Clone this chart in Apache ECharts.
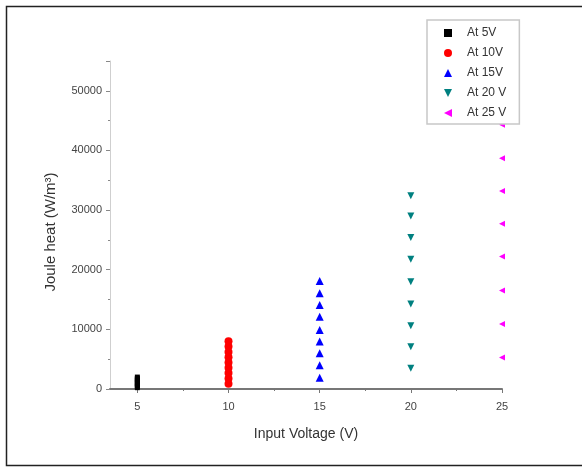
<!DOCTYPE html>
<html>
<head>
<meta charset="utf-8">
<script src="https://cdn.jsdelivr.net/npm/echarts@6/dist/echarts.min.js"></script>
<style>
    html, body { margin: 0; padding: 0; background: #fff; }
    #chart { width: 582px; height: 468px; }
</style>
</head>
<body>
<div id="chart"></div>
<script type="text/javascript">
    // 数据
    var seriesNames = ['At 5V', 'At 10V', 'At 15V', 'At 20 V', 'At 25 V'];
    var voltages = [5, 10, 15, 20, 25];
    var heat5 = [220, 440, 670, 890, 1110, 1330, 1560, 1780, 2000];
    var heat10 = [890, 1780, 2670, 3560, 4440, 5330, 6220, 7110, 8000];
    var heat15 = [1900, 4000, 6000, 7950, 9900, 12100, 14100, 16050, 18100];
    var heat20 = [3500, 7100, 10600, 14250, 18000, 21750, 25400, 29000, 32400];
    var heat25 = [5300, 10900, 16500, 22200, 27700, 33200, 38700, 44300, 49900];
    var xLabels = [5, 10, 15, 20, 25];
    var xMinorTicks = [7.5, 12.5, 17.5, 22.5];

    var heats = [heat5, heat10, heat15, heat20, heat25];
    var colors = ['#000000', '#ff0000', '#0000ff', '#008080', '#ff00ff'];
    // path 符号 keep their aspect in the legend
    var symbols = [
        'path://M0,0L10,0L10,10L0,10Z',
        'circle',
        'path://M5,0L10,10L0,10Z',
        'path://M0,0L10,0L5,10Z',
        'path://M10,0L10,10L0,5Z'
    ];
    var sizes = [5, 8, 8, 7, 6];

    function pairs(v, arr) {
        var out = [];
        for (var i = 0; i < arr.length; i++) {
            out.push([v, arr[i]]);
        }
        return out;
    }

    var series = [];
    var legendData = [];
    for (var i = 0; i < seriesNames.length; i++) {
        series.push({
            name: seriesNames[i],
            type: 'scatter',
            xAxisIndex: 0,
            symbol: symbols[i],
            symbolSize: sizes[i],
            itemStyle: { color: colors[i], opacity: 1 },
            data: pairs(voltages[i], heats[i])
        });
        legendData.push({ name: seriesNames[i], icon: symbols[i] });
    }

    var myChart = echarts.init(document.getElementById('chart'));
    var option = {
        animation: false,
        color: colors,
        grid: { left: 110, right: 80, top: 61, bottom: 79 },
        legend: {
            orient: 'vertical',
            left: 427,
            top: 20,
            data: legendData,
            backgroundColor: '#fff',
            borderColor: '#c8c8c8',
            borderWidth: 1.5,
            borderRadius: 0,
            padding: [7, 13, 5, 17],
            itemWidth: 28,
            itemHeight: 8,
            itemGap: 8,
            symbolKeepAspect: true,
            itemStyle: { opacity: 1 },
            textStyle: { fontSize: 12, color: '#333', fontFamily: 'Liberation Sans' }
        },
        xAxis: [{
            type: 'value',
            min: 3.5,
            max: 25,
            name: 'Input Voltage (V)',
            nameLocation: 'middle',
            nameGap: 38,
            nameTextStyle: { fontSize: 14, color: '#333', fontFamily: 'Liberation Sans' },
            splitLine: { show: false },
            axisLine: { show: true, lineStyle: { color: '#777', width: 2 } },
            axisTick: { show: true, customValues: xLabels, length: 4, lineStyle: { color: '#777' } },
            axisLabel: { customValues: xLabels, color: '#444', fontSize: 11, margin: 12, fontFamily: 'Liberation Sans' }
        }, {
            type: 'value',
            min: 3.5,
            max: 25,
            position: 'bottom',
            splitLine: { show: false },
            axisLine: { show: false },
            axisTick: { show: true, customValues: xMinorTicks, length: 2, lineStyle: { color: '#777' } },
            axisLabel: { show: false }
        }],
        yAxis: {
            type: 'value',
            min: 0,
            max: 55000,
            interval: 10000,
            name: 'Joule heat (W/m³)',
            nameLocation: 'middle',
            nameGap: 52,
            nameTextStyle: { fontSize: 15, color: '#333', fontFamily: 'Liberation Sans', padding: [0, 14, 0, 0] },
            splitLine: { show: false },
            axisLine: { show: true, lineStyle: { color: '#cfcfcf', width: 1 } },
            axisTick: { show: true, length: 4, lineStyle: { color: '#888' } },
            minorTick: { show: true, splitNumber: 2, length: 2, lineStyle: { color: '#888' } },
            axisLabel: {
                color: '#444', fontSize: 11, margin: 8, fontFamily: 'Liberation Sans',
                showMaxLabel: false,
                formatter: function (v) { return String(v); }
            }
        },
        graphic: [{
            type: 'rect',
            shape: { x: 6.5, y: 6.5, width: 590, height: 459 },
            style: { fill: null, stroke: '#222', lineWidth: 1.5 },
            silent: true
        }],
        series: series
    };
    myChart.setOption(option, true);
</script>
</body>
</html>
